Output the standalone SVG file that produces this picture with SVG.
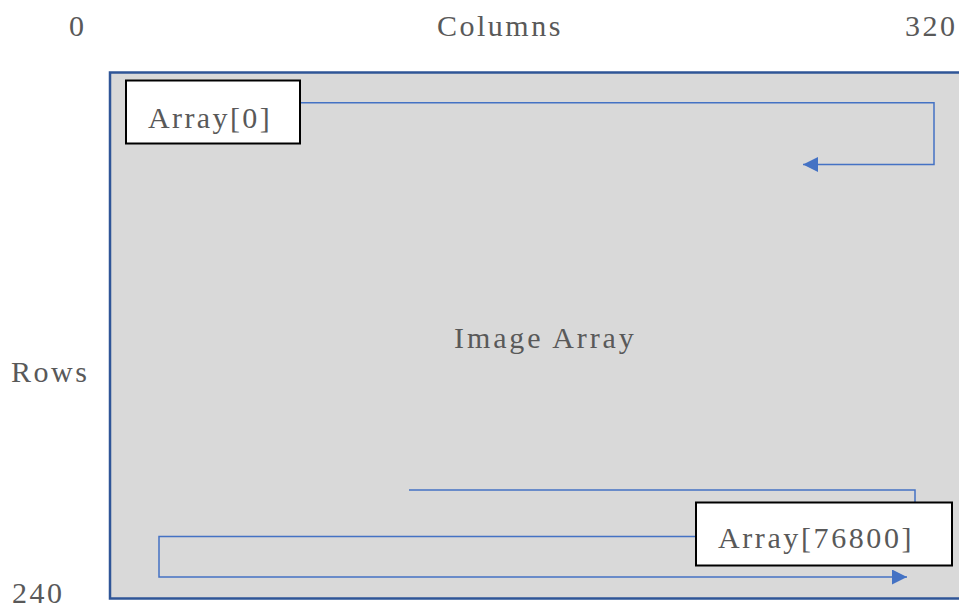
<svg xmlns="http://www.w3.org/2000/svg" width="959" height="608" viewBox="0 0 959 608">
  <style>
    .lbl { font-family: "Liberation Serif", "Times New Roman", serif; font-size: 30px; letter-spacing: 2.5px; fill: #595959; }
    .flow { fill: none; stroke: #4472c4; stroke-width: 1.5; }
    .box { fill: #ffffff; stroke: #000000; stroke-width: 2; }
  </style>
  <defs>
    <marker id="arrow" viewBox="0 0 10 10" refX="10" refY="5" markerWidth="15" markerHeight="15" markerUnits="userSpaceOnUse" orient="auto">
      <path d="M0,0 L10,5 L0,10 z" fill="#4472c4"/>
    </marker>
  </defs>

  <!-- axis labels -->
  <g id="axis-labels">
    <text class="lbl" x="69" y="36">0</text>
    <text class="lbl" x="437" y="36">Columns</text>
    <text class="lbl" x="905" y="36">320</text>
    <text class="lbl" x="11" y="382">Rows</text>
    <text class="lbl" x="12" y="603">240</text>
  </g>

  <!-- image area -->
  <g id="image-array">
    <rect x="110" y="72.5" width="870" height="526" fill="#d9d9d9" stroke="#2f5597" stroke-width="2.5"/>
    <text class="lbl" x="454" y="348" style="letter-spacing:2.9px">Image Array</text>
  </g>

  <!-- scan-order connectors -->
  <g id="connectors">
    <path class="flow" d="M300,102.7 H934 V164.5 H803" marker-end="url(#arrow)"/>
    <path class="flow" d="M409,490 H915 V503"/>
    <path class="flow" d="M696,536.5 H159 V577 H907" marker-end="url(#arrow)"/>
  </g>

  <g id="first-element">
    <rect class="box" x="126" y="80.5" width="174" height="63"/>
    <text class="lbl" x="148" y="128" style="letter-spacing:2.4px">Array[0]</text>
  </g>

  <g id="last-element">
    <rect class="box" x="696" y="502.5" width="256" height="63"/>
    <text class="lbl" x="718" y="548" style="letter-spacing:2.6px">Array[76800]</text>
  </g>
</svg>
